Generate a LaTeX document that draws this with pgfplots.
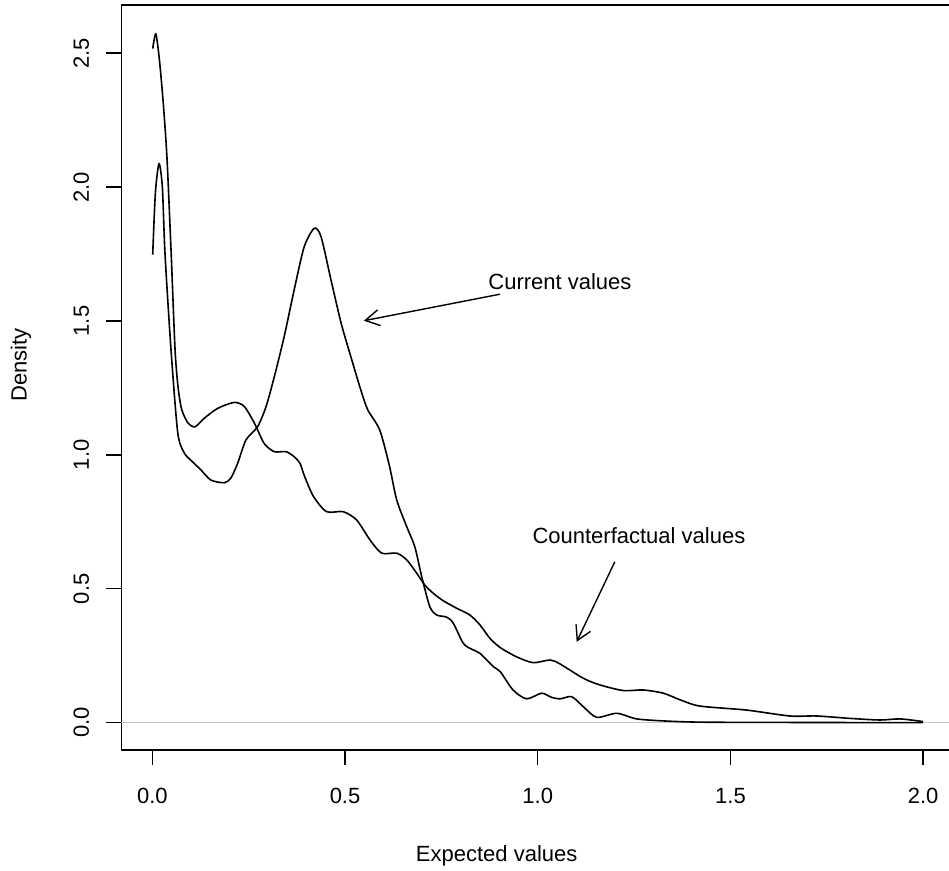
\documentclass[border=0pt]{standalone}
\usepackage{fontspec}
\setmainfont{Liberation Sans}
\usepackage{pgfplots}
\pgfplotsset{compat=1.18}
\usetikzlibrary{arrows.meta}

% density estimates
\pgfplotstableread{
x y
0.001 2.517
0.009 2.572
0.018 2.48
0.028 2.32
0.038 2.109
0.049 1.748
0.059 1.392
0.067 1.25
0.0765 1.168
0.093 1.118
0.111 1.105
0.135 1.137
0.17 1.174
0.213 1.196
0.239 1.18
0.265 1.118
0.29 1.043
0.3165 1.012
0.347 1.012
0.368 0.993
0.383 0.969
0.395 0.92
0.418 0.845
0.452 0.788
0.495 0.788
0.530 0.757
0.565 0.682
0.595 0.633
0.634 0.633
0.66 0.608
0.686 0.558
0.707 0.514
0.729 0.483
0.755 0.455
0.79 0.427
0.824 0.402
0.85 0.365
0.876 0.315
0.903 0.28
0.945 0.246
0.988 0.224
1.032 0.234
1.058 0.219
1.118 0.166
1.161 0.141
1.222 0.12
1.274 0.122
1.326 0.11
1.37 0.085
1.421 0.062
1.542 0.047
1.654 0.025
1.724 0.025
1.81 0.016
1.888 0.01
1.94 0.014
2.0 0.004
}\counterfactual

\pgfplotstableread{
x y
0.001 1.748
0.008 1.98
0.0174 2.087
0.026 2.0
0.033 1.748
0.0485 1.392
0.066 1.082
0.083 1.007
0.1 0.98
0.126 0.944
0.152 0.906
0.187 0.896
0.204 0.914
0.2215 0.969
0.243 1.056
0.273 1.105
0.295 1.18
0.3165 1.292
0.342 1.441
0.368 1.616
0.394 1.777
0.42 1.846
0.4377 1.815
0.4636 1.653
0.49 1.491
0.515 1.367
0.541 1.242
0.559 1.168
0.59 1.093
0.615 0.96
0.634 0.832
0.66 0.732
0.681 0.657
0.699 0.545
0.72 0.433
0.738 0.402
0.764 0.394
0.781 0.371
0.807 0.296
0.829 0.274
0.85 0.259
0.885 0.209
0.903 0.19
0.936 0.122
0.971 0.089
1.01 0.11
1.035 0.095
1.058 0.089
1.088 0.097
1.118 0.06
1.153 0.02
1.205 0.035
1.257 0.014
1.334 0.006
1.42 0.002
1.6 0.001
2.0 0.0
}\current

\begin{document}
\begin{tikzpicture}
\begin{axis}[
    at={(0,0)}, anchor=south west,
    scale only axis,
    width=416.25pt, height=372.5pt,
    xmin=-0.08, xmax=2.08,
    ymin=-0.102, ymax=2.68,
    axis line style={line width=0.7pt},
    tick style={black, line width=0.7pt},
    tick align=outside,
    major tick length=7.5pt,
    xtick pos=lower, ytick pos=left,
    xtick={0,0.5,1,1.5,2},
    xticklabels={0.0,0.5,1.0,1.5,2.0},
    ytick={0,0.5,1,1.5,2,2.5},
    yticklabels={0.0,0.5,1.0,1.5,2.0,2.5},
    tick label style={font=\fontsize{11}{13}\selectfont, inner sep=0pt},
    xticklabel style={anchor=north, yshift=-11.5pt},
    yticklabel style={xshift=-8.5pt, rotate=90, anchor=south},
    xlabel={Expected values},
    ylabel={Density},
    label style={font=\fontsize{11}{13}\selectfont, inner sep=0pt},
    xlabel style={at={(axis description cs:0.4507,0)}, anchor=north, yshift=-47.5pt},
    ylabel style={at={(axis description cs:-0.1141,0.5168)}, anchor=base},
]
\addplot[gray!45, line width=0.6pt] coordinates {(-0.08,0) (2.08,0)};
\addplot[black, line width=0.8pt, smooth, tension=0.45] table[x=x, y=y] {\counterfactual};
\addplot[black, line width=0.8pt, smooth, tension=0.45] table[x=x, y=y] {\current};
\node[font=\fontsize{11}{13}\selectfont, inner sep=0pt] at (axis cs:1.0576,1.6475) {Current values};
\draw[-{Straight Barb[length=7pt,width=8pt]}, line width=0.7pt] (axis cs:0.902,1.6) -- (axis cs:0.549,1.501);
\node[font=\fontsize{11}{13}\selectfont, inner sep=0pt] at (axis cs:1.2625,0.70) {Counterfactual values};
\draw[-{Straight Barb[length=7pt,width=8pt]}, line width=0.7pt] (axis cs:1.2,0.601) -- (axis cs:1.101,0.302);
\end{axis}
\pgfresetboundingbox
\useasboundingbox (-60.75pt,-60.5pt) rectangle (413.75pt,375pt);
\end{tikzpicture}
\end{document}
